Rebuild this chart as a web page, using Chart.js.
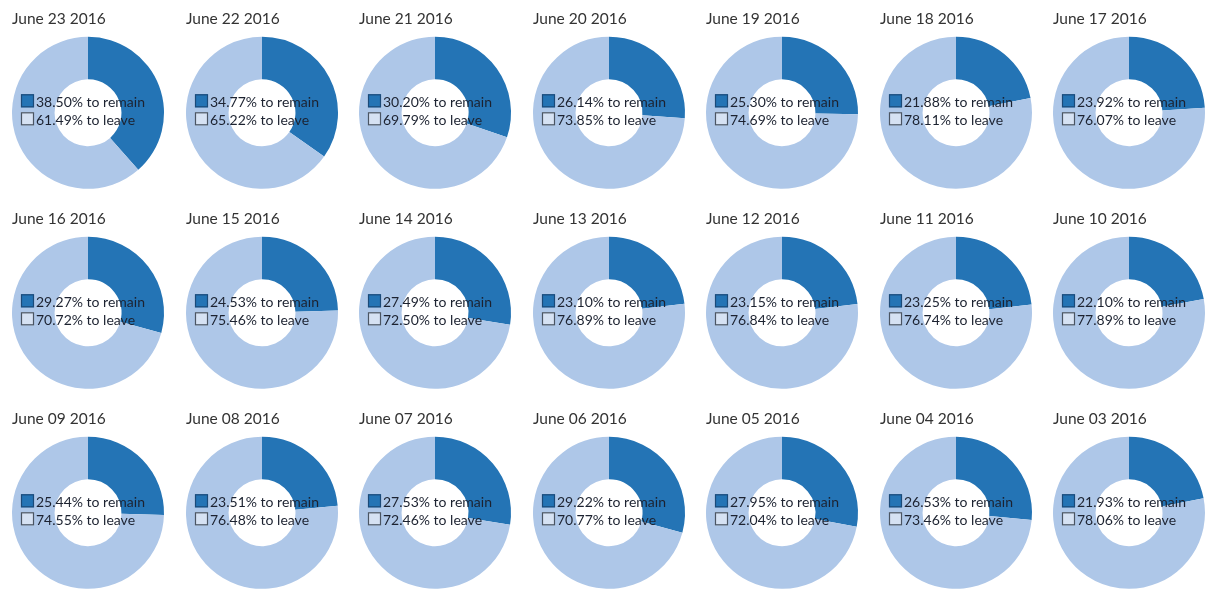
<!DOCTYPE html>
<html>
<head>
<meta charset="utf-8">
<script src="https://cdn.jsdelivr.net/npm/chart.js@4/dist/chart.umd.min.js"></script>
<style>
  html, body { margin: 0; padding: 0; background: #fff; overflow: hidden; }
  #grid { position: relative; width: 1209px; height: 589px; }
  #grid canvas { position: absolute; }
</style>
</head>
<body>
<div id="grid"></div>
<script>
// data, left to right, top to bottom
const dates = [
  "June 23 2016", "June 22 2016", "June 21 2016", "June 20 2016", "June 19 2016", "June 18 2016", "June 17 2016",
  "June 16 2016", "June 15 2016", "June 14 2016", "June 13 2016", "June 12 2016", "June 11 2016", "June 10 2016",
  "June 09 2016", "June 08 2016", "June 07 2016", "June 06 2016", "June 05 2016", "June 04 2016", "June 03 2016"
];
const remain = [38.50, 34.77, 30.20, 26.14, 25.30, 21.88, 23.92,
                29.27, 24.53, 27.49, 23.10, 23.15, 23.25, 22.10,
                25.44, 23.51, 27.53, 29.22, 27.95, 26.53, 21.93];
const leave = [61.49, 65.22, 69.79, 73.85, 74.69, 78.11, 76.07,
               70.72, 75.46, 72.50, 76.89, 76.84, 76.74, 77.89,
               74.55, 76.48, 72.46, 70.77, 72.04, 73.46, 78.06];
const seriesNames = ["to remain", "to leave"];

const darkBlue = "#2474b5";
const lightBlue = "#aec7e8";

// legend drawn on top of the donut, like in the picture
const overlayLegend = {
  id: "overlayLegend",
  afterDraw(chart) {
    const arc = chart.getDatasetMeta(0).data[0];
    if (!arc) return;
    const ctx = chart.ctx;
    const vals = chart.data.datasets[0].data;
    const cx = arc.x, cy = arc.y;
    ctx.save();
    ctx.font = "14px Lato";
    ctx.textBaseline = "alphabetic";
    ctx.textAlign = "left";
    for (let k = 0; k < 2; k++) {
      const top = cy - 18.5 + k * 18;
      ctx.lineWidth = 1.2;
      if (k === 0) {
        ctx.fillStyle = darkBlue;
        ctx.fillRect(cx - 67, top, 13, 13);
        ctx.strokeStyle = "#1b4a78";
      } else {
        ctx.fillStyle = "rgba(240,244,250,0.6)";
        ctx.fillRect(cx - 67, top, 13, 13);
        ctx.strokeStyle = "#4a5563";
      }
      ctx.strokeRect(cx - 66.5, top + 0.5, 12, 12);
      ctx.fillStyle = "#1c2230";
      ctx.fillText(vals[k].toFixed(2) + "% " + seriesNames[k], cx - 52, top + 12.5);
    }
    ctx.restore();
  }
};

const grid = document.getElementById("grid");

dates.forEach((d, i) => {
  const col = i % 7;
  const row = Math.floor(i / 7);
  const centerX = 88 + col * 173.5;

  const canvas = document.createElement("canvas");
  canvas.width = 176;
  canvas.height = 200;
  canvas.style.left = (centerX - 88) + "px";
  canvas.style.top = (row * 200) + "px";
  grid.appendChild(canvas);

  new Chart(canvas.getContext("2d"), {
    type: "doughnut",
    data: {
      labels: seriesNames,
      datasets: [{
        data: [remain[i], leave[i]],
        backgroundColor: [darkBlue, lightBlue],
        borderWidth: 0
      }]
    },
    options: {
      responsive: false,
      animation: false,
      cutout: "44%",
      layout: { padding: { left: 12, right: 12, top: 0, bottom: 11 } },
      plugins: {
        legend: { display: false },
        tooltip: { enabled: false },
        title: {
          display: true,
          text: d,
          align: "start",
          color: "#333",
          font: { family: "Lato", size: 15.5, weight: "normal" },
          padding: { top: 10, bottom: 8 }
        }
      }
    },
    plugins: [overlayLegend]
  });
});
</script>
</body>
</html>
